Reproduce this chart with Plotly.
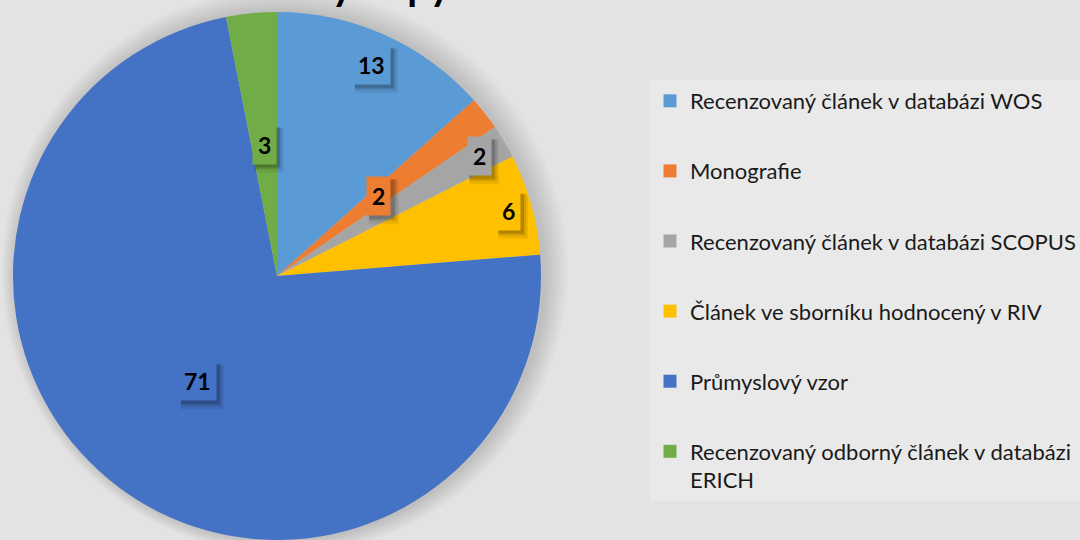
import math
import plotly.graph_objects as go

# ---- data ----
categories = [
    "Recenzovaný článek v databázi WOS",
    "Monografie",
    "Recenzovaný článek v databázi SCOPUS",
    "Článek ve sborníku hodnocený v RIV",
    "Průmyslový vzor",
    "Recenzovaný odborný článek v databázi ERICH",
]
legend_labels = [
    "Recenzovaný článek v databázi WOS",
    "Monografie",
    "Recenzovaný článek v databázi SCOPUS",
    "Článek ve sborníku hodnocený v RIV",
    "Průmyslový vzor",
    "Recenzovaný odborný článek v databázi<br>ERICH",
]
values = [13, 2, 2, 6, 71, 3]
title_text = "Publikační výstupy za období 2015 – 2020"

# ---- style ----
colors = ["#5B9BD5", "#ED7D31", "#A5A5A5", "#FFC000", "#4472C4", "#70AD47"]
label_radius_frac = [0.875, 0.49, 0.89, 0.91, 0.50, 0.50]
FONT = "Lato"
LABEL_SIZE = 23
W, H = 1080, 540
ML, MR, MT, MB = 0, 0, 12, 0
PW, PH = W - ML - MR, H - MT - MB
PIE_LEFT, PIE_SIZE = 13, 528
CX, CY, R = PIE_LEFT + PIE_SIZE / 2, MT + PIE_SIZE / 2, PIE_SIZE / 2


def px_to_paper(px, py):
    return (px - ML) / PW, (H - MB - py) / PH


fig = go.Figure()
fig.add_trace(go.Pie(
    labels=categories, values=values, sort=False, direction="clockwise",
    rotation=0, textinfo="none", showlegend=False,
    marker=dict(colors=colors, line=dict(width=0)),
    domain=dict(x=[PIE_LEFT / W, (PIE_LEFT + PIE_SIZE) / W], y=[0, 1]),
    hoverinfo="label+value",
))

# legend entries
for lab, col in zip(legend_labels, colors):
    fig.add_trace(go.Scatter(
        x=[None], y=[None], mode="markers", name=lab, legendgroup=lab,
        marker=dict(symbol="square", size=13, color=col),
        hoverinfo="skip",
    ))

# soft glow behind pie (many faint layers for a smooth falloff)
shapes = []
for extra in range(24, 0, -2):
    x0, y0 = px_to_paper(CX - R - extra * 0.6 + 3, CY + R + extra * 0.6)
    x1, y1 = px_to_paper(CX + R + extra + 3, CY - R - extra)
    shapes.append(dict(type="circle", xref="paper", yref="paper",
                       x0=x0, x1=x1, y0=y0, y1=y1, layer="below",
                       fillcolor="rgba(0,0,0,0.012)", line=dict(width=0)))

# data labels (boxes with a soft drop shadow)
annotations = []
total = sum(values)
cum = 0
for v, c, rf in zip(values, colors, label_radius_frac):
    mid = (cum + v / 2) / total * 2 * math.pi
    cum += v
    px = CX + rf * R * math.sin(mid)
    py = CY - rf * R * math.cos(mid)
    bw = 13.5 * len(str(v)) + 12
    bh = 40
    for dx, dy, grow, alpha in [(5, 6, 2, 0.07), (4, 4, 1, 0.10), (3, 3, 0, 0.16)]:
        x0, y0 = px_to_paper(px - bw / 2 + dx - grow, py + bh / 2 + dy + grow)
        x1, y1 = px_to_paper(px + bw / 2 + dx + grow, py - bh / 2 + dy - grow)
        shapes.append(dict(type="rect", xref="paper", yref="paper",
                           x0=x0, x1=x1, y0=y0, y1=y1, layer="above",
                           fillcolor=f"rgba(0,0,0,{alpha})", line=dict(width=0)))
    ax, ay = px_to_paper(px, py)
    annotations.append(dict(
        x=ax, y=ay, xref="paper", yref="paper", showarrow=False,
        xanchor="center", yanchor="middle",
        text=f"<b>{v}</b>",
        font=dict(family=FONT, size=LABEL_SIZE, color="#000000"),
        bgcolor=c, borderpad=5))

# title (mostly cut off at top edge, as in the reference)
annotations.append(dict(
    x=494 / W, y=1, xref="paper", yref="paper", xanchor="center",
    yanchor="bottom", showarrow=False, yshift=1,
    text=f"<b>{title_text}</b>",
    font=dict(family=FONT, size=40, color="#000000")))

lx, ly = px_to_paper(650, 80)
fig.update_layout(
    width=W, height=H,
    margin=dict(l=ML, r=MR, t=MT, b=MB, autoexpand=False),
    paper_bgcolor="#e3e3e3", plot_bgcolor="rgba(0,0,0,0)",
    xaxis=dict(visible=False), yaxis=dict(visible=False),
    showlegend=True,
    legend=dict(x=lx, y=ly, xanchor="left", yanchor="top",
                bgcolor="#e9e9e9", traceorder="grouped", tracegroupgap=38.5,
                valign="top",
                font=dict(family=FONT, size=22, color="#1a1a1a")),
    shapes=shapes, annotations=annotations,
    font=dict(family=FONT),
)

fig.write_html(
    "out.html",
    config={"displayModeBar": False},
    post_script="document.body.style.margin='0';document.body.style.overflow='hidden';",
)
